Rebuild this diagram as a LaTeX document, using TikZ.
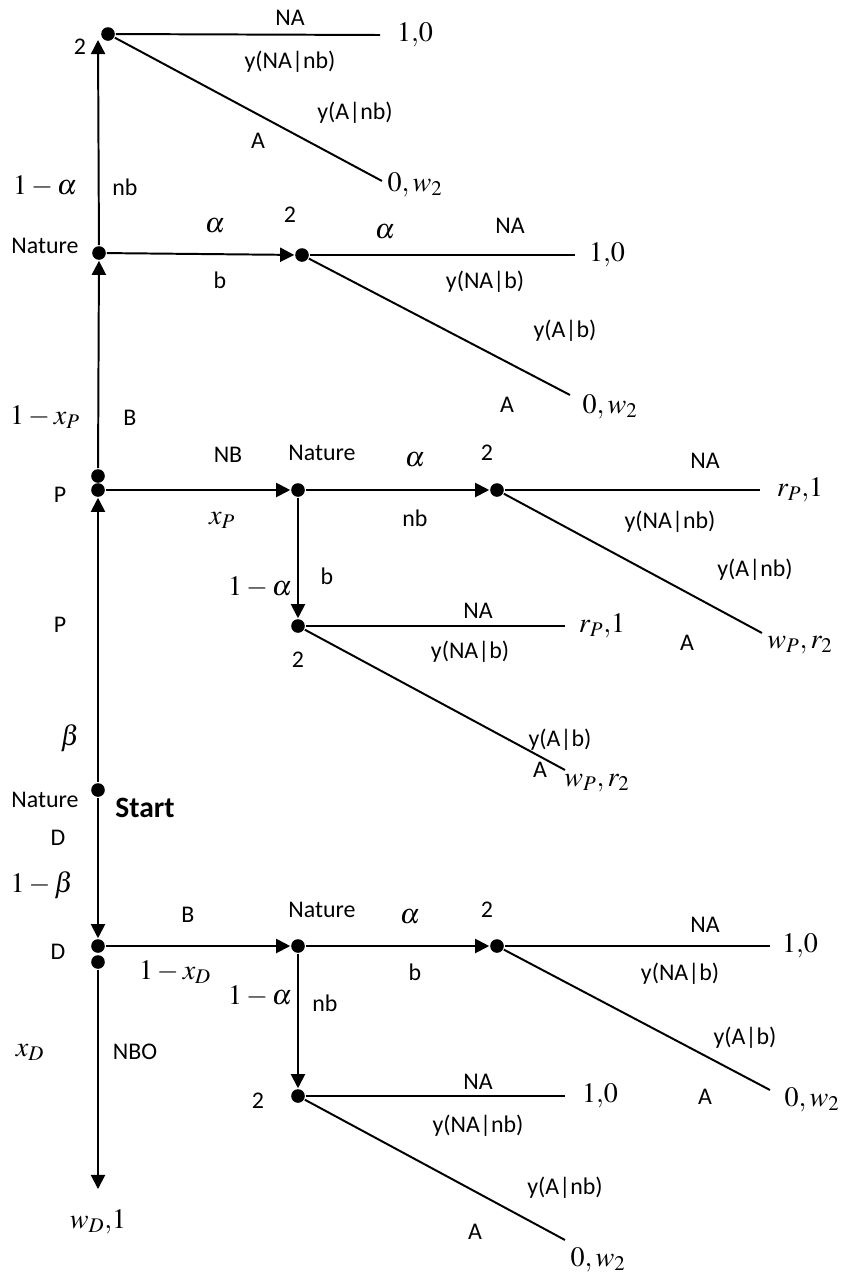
\documentclass[tikz,border=0pt]{standalone}
\usepackage{mathptmx}
\usepackage{fontspec}
\setmainfont{Liberation Serif}
\setsansfont{Carlito}
\usepackage{tikz}
\usetikzlibrary{arrows.meta}

\begin{document}
\begin{tikzpicture}[x=0.025cm,y=-0.025cm,line width=1.4pt,
  dot/.style={circle,fill,inner sep=0pt,minimum size=0.34cm},
  arr/.style={-{Triangle[length=10pt,width=10pt]}},
  lbl/.style={font=\sffamily\fontsize{17}{20}\selectfont,inner sep=0pt},
  mth/.style={font=\fontsize{20}{24}\selectfont,inner sep=0pt}]
\useasboundingbox (0,0) rectangle (850,1278);

% decision and chance nodes
\node[dot] (nb2)  at (108,34) {};
\node[dot] (nat1) at (99,253) {};
\node[dot] (b2)   at (302,255) {};
\node[dot] (pa)   at (98,476) {};
\node[dot] (pb)   at (98,490) {};
\node[dot] (nat2) at (298,490) {};
\node[dot] (nbp)  at (497,490) {};
\node[dot] (bp)   at (298,626) {};
\node[dot] (start) at (98,790) {};
\node[dot] (da)   at (98,946) {};
\node[dot] (db)   at (98,962) {};
\node[dot] (nat3) at (298,946) {};
\node[dot] (bd)   at (497,946) {};
\node[dot] (nbd)  at (298,1096) {};

% free ends
\coordinate (tip) at (98,40);
\coordinate (tipd) at (98,1189);
\coordinate (e1) at (380,35);   \coordinate (e2) at (382,181);
\coordinate (e3) at (575,255);  \coordinate (e4) at (570,395);
\coordinate (e5) at (760,490);  \coordinate (e6) at (762,633);
\coordinate (e7) at (565,626);  \coordinate (e8) at (565,770);
\coordinate (e9) at (770,946);  \coordinate (e10) at (770,1090);
\coordinate (e11) at (565,1096); \coordinate (e12) at (565,1240);

% moves
\draw[arr] (nat1) -- (tip);
\draw[arr] (nat1) -- (b2);
\draw[arr] (pa) -- (nat1);
\draw[arr] (pb) -- (nat2);
\draw[arr] (nat2) -- (nbp);
\draw[arr] (nat2) -- (bp);
\draw[arr] (start) -- (pb);
\draw[arr] (start) -- (da);
\draw[arr] (da) -- (nat3);
\draw[arr] (nat3) -- (bd);
\draw[arr] (nat3) -- (nbd);
\draw[arr] (db) -- (tipd);
\draw (nb2) -- (e1);  \draw (nb2) -- (e2);
\draw (b2) -- (e3);   \draw (b2) -- (e4);
\draw (nbp) -- (e5);  \draw (nbp) -- (e6);
\draw (bp) -- (e7);   \draw (bp) -- (e8);
\draw (bd) -- (e9);   \draw (bd) -- (e10);
\draw (nbd) -- (e11); \draw (nbd) -- (e12);

% payoffs
\node[mth] (p1)  at (415,35)   {$1{,}0$};
\node[mth] (p2)  at (415,185)  {$0, w_2$};
\node[mth] (p3)  at (607,255)  {$1{,}0$};
\node[mth] (p4)  at (610,407)  {$0, w_2$};
\node[mth] (p5)  at (800,490)  {$r_P{,}1$};
\node[mth] (p6)  at (800,645)  {$w_P, r_2$};
\node[mth] (p7)  at (602,626)  {$r_P{,}1$};
\node[mth] (p8)  at (597,783)  {$w_P, r_2$};
\node[mth] (p9)  at (800,946)  {$1{,}0$};
\node[mth] (p10) at (812,1100) {$0, w_2$};
\node[mth] (p11) at (600,1096) {$1{,}0$};
\node[mth] (p12) at (598,1260) {$0, w_2$};
\node[mth] (p13) at (98,1222)  {$w_D{,}1$};

% probabilities
\foreach \x/\y/\t [count=\i] in {45/186/1-\alpha, 215/226/\alpha, 385/232/\alpha,
  45/417/1-x_P, 222/520/x_P, 415/460/\alpha, 260/587/1-\alpha, 70/738/\beta,
  42/885/1-\beta, 175/972/1-x_D, 410/917/\alpha, 260/996/1-\alpha, 30/1052/x_D}
  \node[mth] (q\i) at (\x,\y) {$\t$};

% players and actions
\foreach \x/\y/\t [count=\i] in {80/47/2, 290/18/NA, 290/62/y(NA|nb), 355/113/y(A|nb),
  258/141/A, 125/187/nb, 45/246/Nature, 220/280/b, 290/215/2, 510/226/NA,
  485/282/y(NA|b), 565/331/y(A|b), 507/405/A, 130/418/B, 60/495/P, 228/455/NB,
  322/453/Nature, 415/518/nb, 487/453/2, 705/461/NA, 670/522/y(NA|nb),
  755/570/y(A|nb), 687/643/A, 327/576/b, 298/660/2, 478/611/NA, 470/652/y(NA|b),
  560/740/y(A|b), 540/770/A, 60/625/P, 45/800/Nature, 58/838/D, 58/952/D,
  188/915/B, 322/910/Nature, 487/910/2, 415/972/b, 705/925/NA, 680/974/y(NA|b),
  745/1038/y(A|b), 705/1097/A, 325/1003/nb, 258/1101/2, 478/1082/NA,
  478/1126/y(NA|nb), 565/1188/y(A|nb), 475/1232/A, 135/1052/NBO}
  \node[lbl] (l\i) at (\x,\y) {\t};

\node[lbl,font=\sffamily\bfseries\fontsize{21}{24}\selectfont] (st) at (145,808) {Start};
\end{tikzpicture}
\end{document}
